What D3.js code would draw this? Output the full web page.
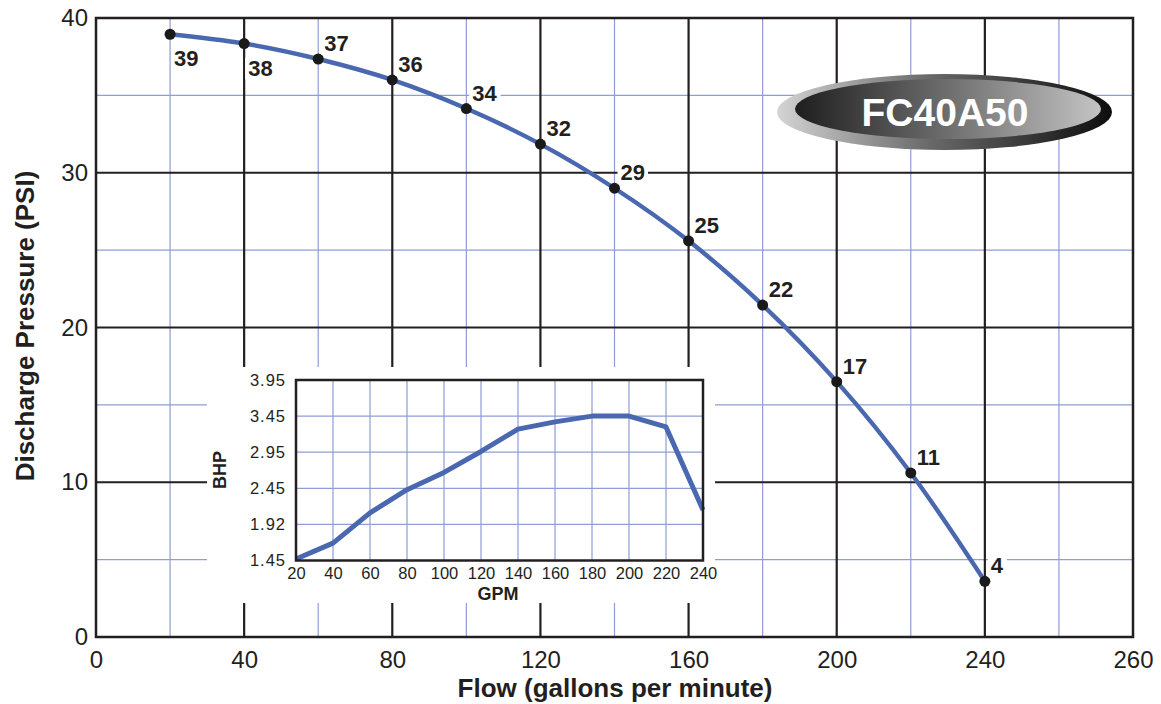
<!DOCTYPE html>
<html>
<head>
<meta charset="utf-8">
<script src="https://cdn.jsdelivr.net/npm/d3@7"></script>
<style>
  html, body { margin: 0; padding: 0; background: #fff; }
  svg { display: block; font-family: "Liberation Sans", Arial, sans-serif; }
</style>
</head>
<body>
<svg id="chart" width="1161" height="704"></svg>
<script>
// ---- Data ----
const flowGpm = [20, 40, 60, 80, 100, 120, 140, 160, 180, 200, 220, 240];
const pressurePsi = [38.95, 38.35, 37.35, 36.0, 34.15, 31.85, 29.0, 25.6, 21.45, 16.5, 10.6, 3.6];
const pressureLabels = ["39", "38", "37", "36", "34", "32", "29", "25", "22", "17", "11", "4"];

const xTickValues = [0, 40, 80, 120, 160, 200, 240, 280];
const xTickLabels = ["0", "40", "80", "120", "160", "200", "240", "260"];
const xMinorValues = [20, 60, 100, 140, 180, 220, 260];
const yTickValues = [0, 10, 20, 30, 40];
const yTickLabels = ["0", "10", "20", "30", "40"];
const yMinorValues = [5, 15, 25, 35];

const bhpGpm = [20, 40, 60, 80, 100, 120, 140, 160, 180, 200, 220, 240];
const bhpValues = [1.47, 1.69, 2.11, 2.43, 2.67, 2.96, 3.27, 3.37, 3.45, 3.45, 3.30, 2.15];
const bhpXTicks = [20, 40, 60, 80, 100, 120, 140, 160, 180, 200, 220, 240];
const bhpYTickValues = [1.45, 1.95, 2.45, 2.95, 3.45, 3.95];
const bhpYTickLabels = ["1.45", "1.92", "2.45", "2.95", "3.45", "3.95"];

const modelName = "FC40A50";
const xTitle = "Flow (gallons per minute)";
const yTitle = "Discharge Pressure (PSI)";

// ---- Styles ----
const BLUE_GRID = "#8e9dd6";
const BLACK = "#231f20";
const LINE_BLUE = "#4a68b0";

const svg = d3.select("#chart");

// ---- Main chart ----
const x = d3.scaleLinear().domain([0, 280]).range([96, 1133]);
const y = d3.scaleLinear().domain([0, 40]).range([637, 18]);

const grid = svg.append("g");
grid.selectAll("line.vminor").data(xMinorValues).join("line")
  .attr("x1", d => x(d)).attr("x2", d => x(d))
  .attr("y1", y(40)).attr("y2", y(0))
  .attr("stroke", BLUE_GRID).attr("stroke-width", 1.2);
grid.selectAll("line.hminor").data(yMinorValues).join("line")
  .attr("y1", d => y(d)).attr("y2", d => y(d))
  .attr("x1", x(0)).attr("x2", x(280))
  .attr("stroke", BLUE_GRID).attr("stroke-width", 1.2);
grid.selectAll("line.vmajor").data(xTickValues.slice(1, -1)).join("line")
  .attr("x1", d => x(d)).attr("x2", d => x(d))
  .attr("y1", y(40)).attr("y2", y(0))
  .attr("stroke", BLACK).attr("stroke-width", 2.2);
grid.selectAll("line.hmajor").data(yTickValues.slice(1, -1)).join("line")
  .attr("y1", d => y(d)).attr("y2", d => y(d))
  .attr("x1", x(0)).attr("x2", x(280))
  .attr("stroke", BLACK).attr("stroke-width", 2.2);

// frame
svg.append("rect")
  .attr("x", x(0)).attr("y", y(40))
  .attr("width", x(280) - x(0)).attr("height", y(0) - y(40))
  .attr("fill", "none").attr("stroke", BLACK).attr("stroke-width", 2.5);

// axes
const xAxis = d3.axisBottom(x).tickValues(xTickValues)
  .tickFormat((d, i) => xTickLabels[i]).tickSize(0).tickPadding(14);
svg.append("g").attr("transform", `translate(0,${y(0)})`).call(xAxis)
  .call(g => g.select(".domain").remove())
  .selectAll("text").attr("font-size", 24).attr("fill", BLACK)
  .attr("font-family", "Liberation Sans, Arial, sans-serif");

const yAxis = d3.axisLeft(y).tickValues(yTickValues)
  .tickFormat((d, i) => yTickLabels[i]).tickSize(0).tickPadding(8);
svg.append("g").attr("transform", `translate(${x(0)},0)`).call(yAxis)
  .call(g => g.select(".domain").remove())
  .selectAll("text").attr("font-size", 24).attr("fill", BLACK)
  .attr("font-family", "Liberation Sans, Arial, sans-serif");

svg.append("text").attr("x", 615).attr("y", 697)
  .attr("text-anchor", "middle").attr("font-weight", "bold").attr("font-size", 26)
  .attr("fill", BLACK).text(xTitle);
svg.append("text")
  .attr("transform", "translate(34,326) rotate(-90)")
  .attr("text-anchor", "middle").attr("font-weight", "bold").attr("font-size", 26)
  .attr("fill", BLACK).text(yTitle);

// ---- Logo ----
const defs = svg.append("defs");
const gOuter = defs.append("linearGradient").attr("id", "gOuter").attr("x1", "0").attr("x2", "1").attr("y1", "0").attr("y2", "0");
gOuter.append("stop").attr("offset", "0").attr("stop-color", "#d4d4d4");
gOuter.append("stop").attr("offset", "0.45").attr("stop-color", "#6a6a6a");
gOuter.append("stop").attr("offset", "1").attr("stop-color", "#0e0e0e");
const gInner = defs.append("linearGradient").attr("id", "gInner").attr("x1", "0").attr("x2", "1").attr("y1", "0").attr("y2", "0");
gInner.append("stop").attr("offset", "0").attr("stop-color", "#1e1e1e");
gInner.append("stop").attr("offset", "0.5").attr("stop-color", "#6e6e6e");
gInner.append("stop").attr("offset", "1").attr("stop-color", "#c4c4c4");

svg.append("ellipse").attr("cx", 944.5).attr("cy", 112).attr("rx", 167.5).attr("ry", 38)
  .attr("fill", "url(#gOuter)");
svg.append("ellipse").attr("cx", 948).attr("cy", 109).attr("rx", 153).attr("ry", 30)
  .attr("fill", "url(#gInner)");
svg.append("text").attr("x", 945).attr("y", 126)
  .attr("text-anchor", "middle").attr("font-weight", "bold").attr("font-size", 39)
  .attr("fill", "#ffffff").text(modelName);

// ---- Point labels (with white backgrounds) ----
const pts = flowGpm.map((f, i) => ({ f, p: pressurePsi[i], label: pressureLabels[i], i }));
const labelG = svg.append("g");
const labels = labelG.selectAll("text").data(pts).join("text")
  .attr("x", d => x(d.f) + (d.i < 2 ? 4 : 6))
  .attr("y", d => y(d.p) + (d.i < 2 ? 32 : -8))
  .attr("font-weight", "bold").attr("font-size", 22).attr("fill", BLACK)
  .text(d => d.label);
labels.each(function () {
  const b = this.getBBox();
  labelG.insert("rect", "text")
    .attr("x", b.x - 3).attr("y", b.y + 2).attr("width", b.width + 6).attr("height", b.height - 3)
    .attr("fill", "#fff");
});

// curve
const line = d3.line().x(d => x(d.f)).y(d => y(d.p)).curve(d3.curveCatmullRom.alpha(0.5));
svg.append("path").datum(pts).attr("d", line)
  .attr("fill", "none").attr("stroke", LINE_BLUE).attr("stroke-width", 4.4);
svg.append("g").selectAll("circle").data(pts).join("circle")
  .attr("cx", d => x(d.f)).attr("cy", d => y(d.p)).attr("r", 5.5).attr("fill", "#1a1a1a");
labelG.raise();

// ---- Inset BHP chart ----
svg.append("rect").attr("x", 207).attr("y", 367).attr("width", 508).attr("height", 236).attr("fill", "#fff");

const ix = d3.scaleLinear().domain([20, 240]).range([296, 703]);
const iy = d3.scaleLinear().domain([1.45, 3.95]).range([560.5, 380]);

const ig = svg.append("g");
ig.selectAll("line.v").data(bhpXTicks.slice(1, -1)).join("line")
  .attr("x1", d => ix(d)).attr("x2", d => ix(d)).attr("y1", iy(3.95)).attr("y2", iy(1.45))
  .attr("stroke", BLUE_GRID).attr("stroke-width", 1.2);
ig.selectAll("line.h").data(bhpYTickValues.slice(1, -1)).join("line")
  .attr("y1", d => iy(d)).attr("y2", d => iy(d)).attr("x1", ix(20)).attr("x2", ix(240))
  .attr("stroke", BLUE_GRID).attr("stroke-width", 1.2);

const bhpPts = bhpGpm.map((g, i) => ({ g, v: bhpValues[i] }));
ig.append("path").datum(bhpPts)
  .attr("d", d3.line().x(d => ix(d.g)).y(d => iy(d.v)))
  .attr("fill", "none").attr("stroke", LINE_BLUE).attr("stroke-width", 5).attr("stroke-linejoin", "round");

ig.append("rect").attr("x", ix(20)).attr("y", iy(3.95))
  .attr("width", ix(240) - ix(20)).attr("height", iy(1.45) - iy(3.95))
  .attr("fill", "none").attr("stroke", BLACK).attr("stroke-width", 2.5);

ig.append("g").attr("transform", `translate(0,${iy(1.45)})`)
  .call(d3.axisBottom(ix).tickValues(bhpXTicks).tickFormat(d3.format("d")).tickSize(0).tickPadding(7))
  .call(g => g.select(".domain").remove())
  .selectAll("text").attr("font-size", 16.5).attr("fill", BLACK)
  .attr("font-family", "Liberation Sans, Arial, sans-serif");
ig.append("g").attr("transform", `translate(${ix(20)},0)`)
  .call(d3.axisLeft(iy).tickValues(bhpYTickValues).tickFormat((d, i) => bhpYTickLabels[i]).tickSize(0).tickPadding(10))
  .call(g => g.select(".domain").remove())
  .selectAll("text").attr("font-size", 16.5).attr("letter-spacing", 1).attr("fill", BLACK)
  .attr("font-family", "Liberation Sans, Arial, sans-serif");

ig.append("text").attr("x", 498).attr("y", 600).attr("text-anchor", "middle")
  .attr("font-weight", "bold").attr("font-size", 18).attr("fill", BLACK).text("GPM");
ig.append("text").attr("transform", "translate(226,470) rotate(-90)").attr("text-anchor", "middle")
  .attr("font-weight", "bold").attr("font-size", 18).attr("fill", BLACK).text("BHP");
</script>
</body>
</html>
